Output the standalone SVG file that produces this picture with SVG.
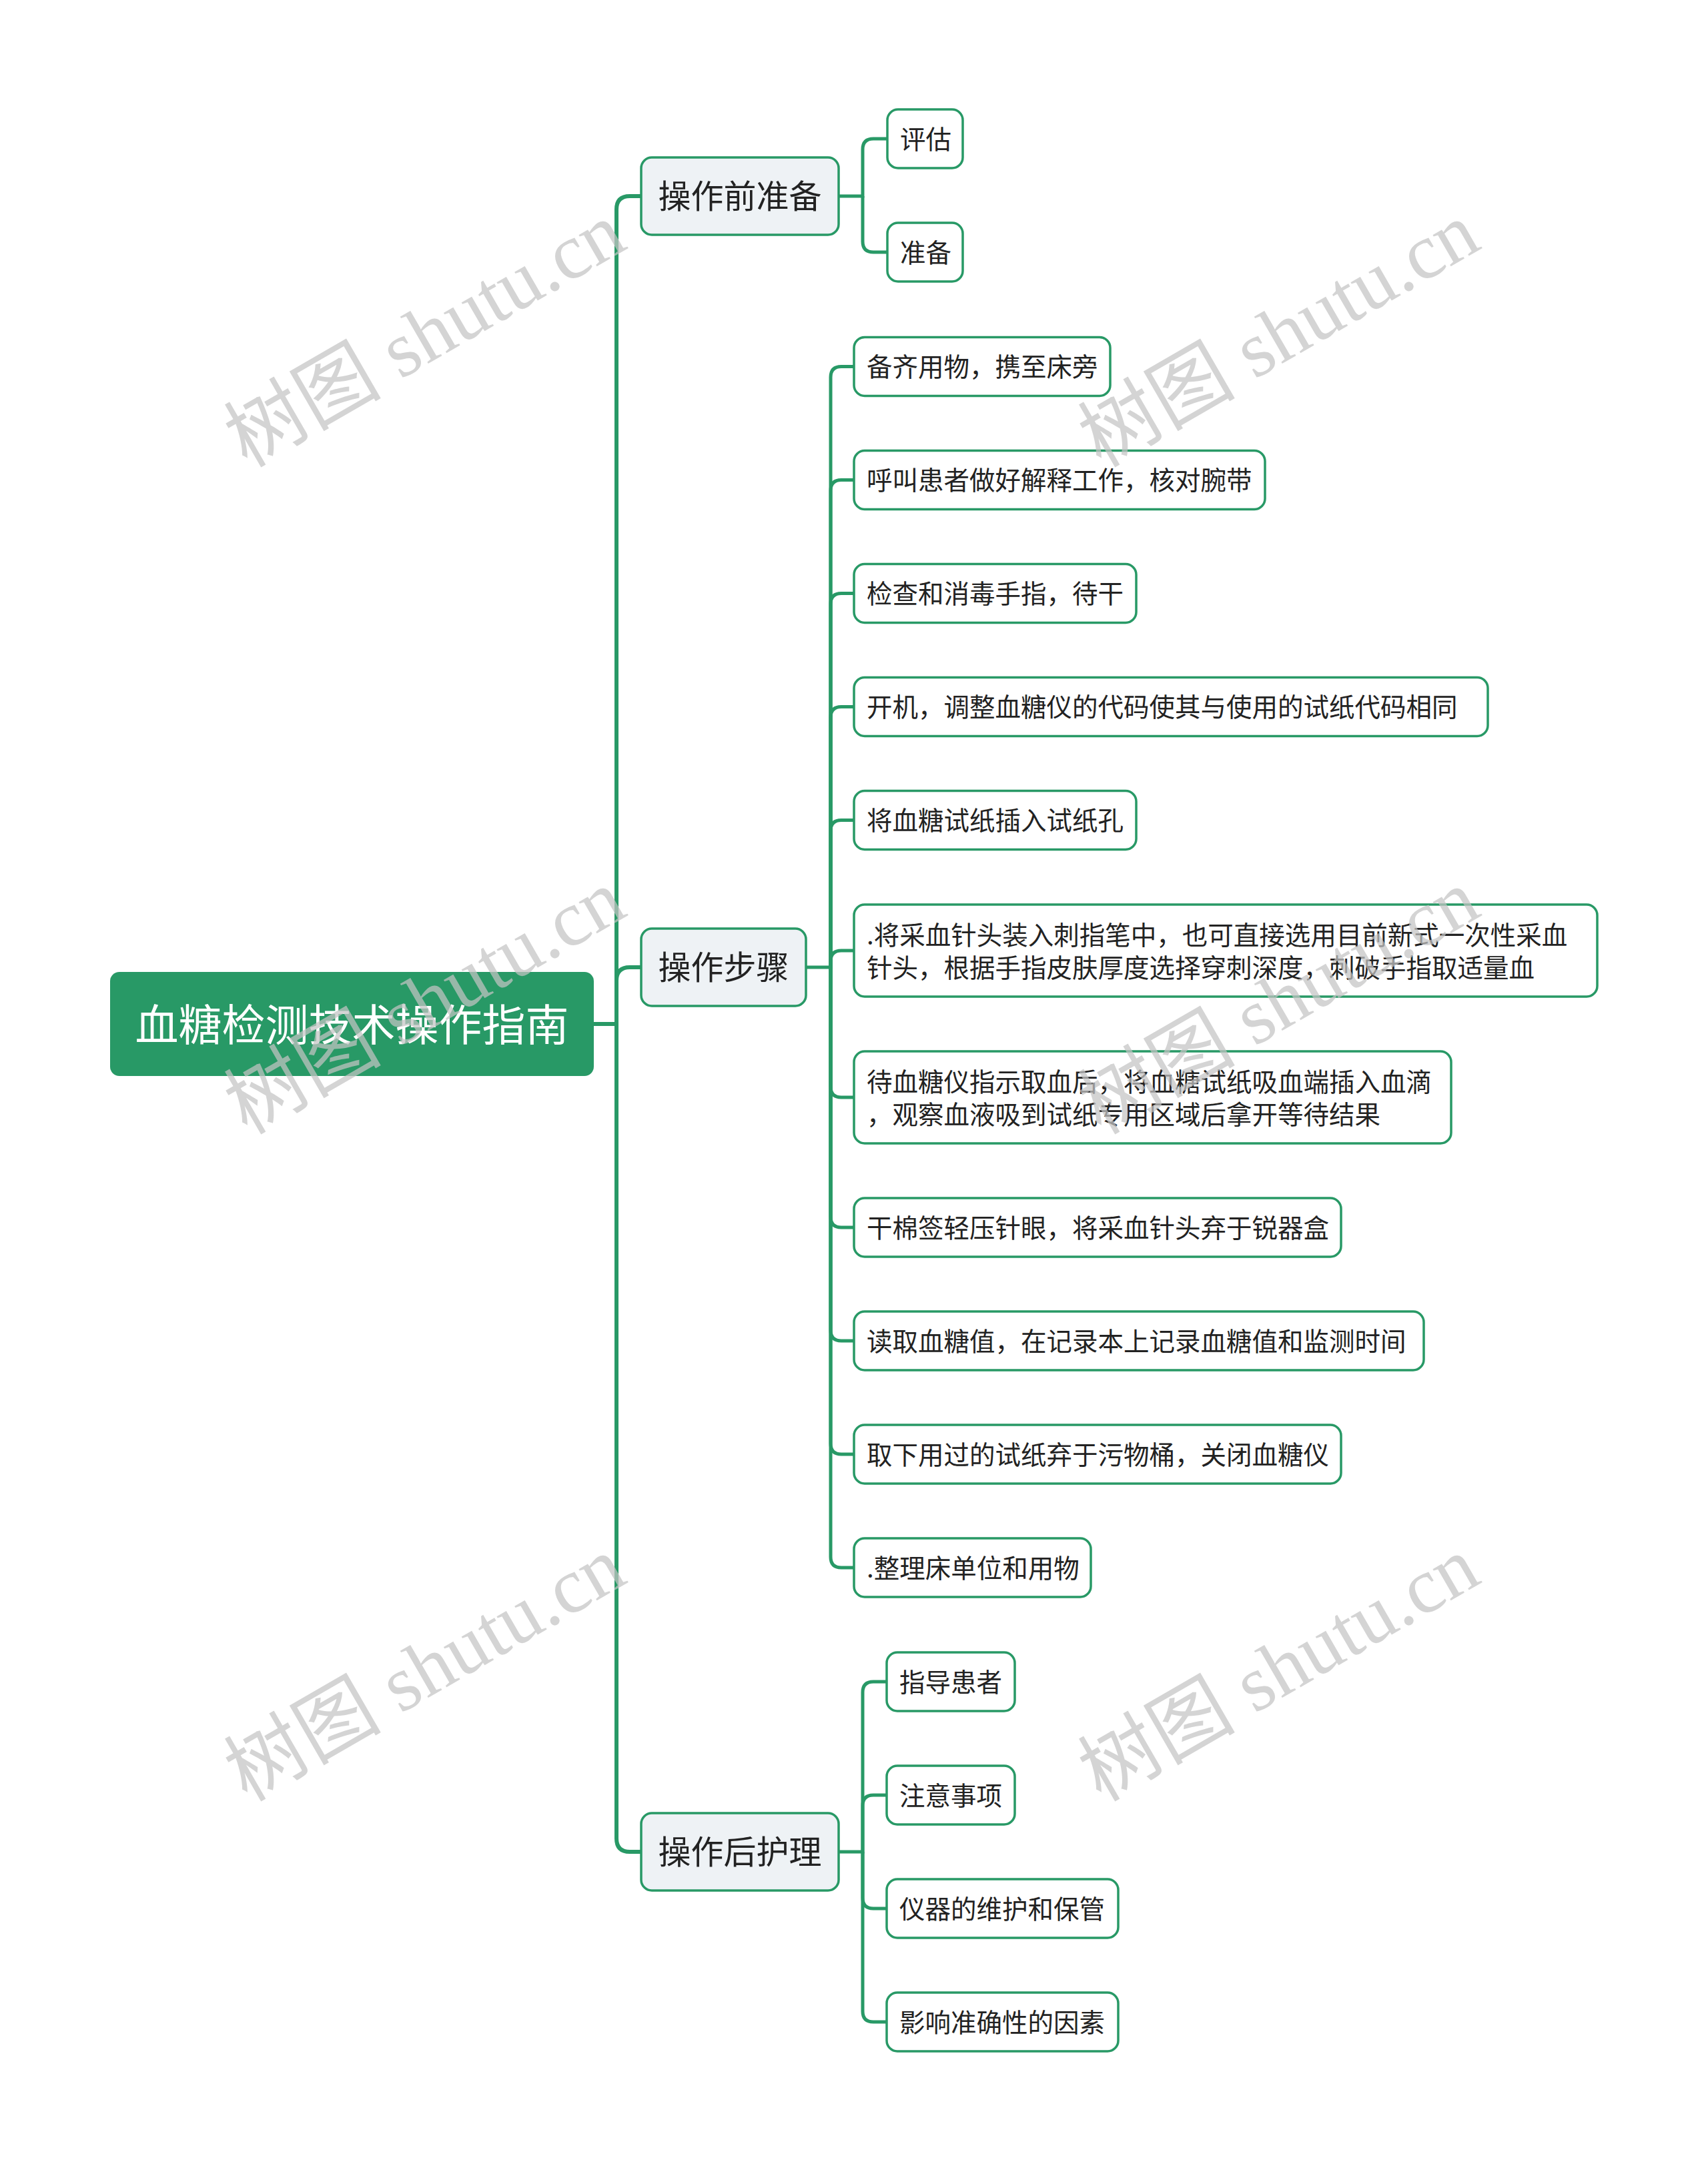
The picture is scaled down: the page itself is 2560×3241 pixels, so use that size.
<svg xmlns="http://www.w3.org/2000/svg" width="2560" height="3241" viewBox="0 0 2560 3241">
<style>
.bg{fill:#ffffff}
.root rect{fill:#289966}
.root text{fill:#ffffff;font-size:65px}
.l1 rect{fill:#eef2f5;stroke:#289966;stroke-width:3.5}
.l1 text{fill:#222222;font-size:49px;text-anchor:middle}
.l2 rect{fill:#ffffff;stroke:#289966;stroke-width:3.5}
.l2 text{fill:#222222;font-size:38.5px}
text{font-family:"Noto Sans CJK SC","Noto Sans",sans-serif;dominant-baseline:central}
.c1{fill:none;stroke:#289966;stroke-width:6}
.c2{fill:none;stroke:#289966;stroke-width:5}
.wm text{font-family:"Liberation Serif","Noto Sans CJK SC",serif;font-size:118px;fill:#c4c4c4;opacity:0.72;dominant-baseline:alphabetic}
</style>
<rect class="bg" x="0" y="0" width="2560" height="3241"/>
<g id="connectors">
<path class="c1" d="M890,1535 H924 V314 Q924,294 944,294 H961"/>
<path class="c1" d="M924,1535 V2756 Q924,2776 944,2776 H961"/>
<path class="c1" d="M924,1470 Q924,1450 944,1450 H961"/>
<path class="c2" d="M1257,294 H1293 V224 Q1293,208 1309,208 H1330"/>
<path class="c2" d="M1293,294 V362 Q1293,378 1309,378 H1330"/>
<path class="c2" d="M1208,1450 H1245 V565.5 Q1245,549.5 1261,549.5 H1280"/>
<path class="c2" d="M1245,1450 V735.5 Q1245,719.5 1261,719.5 H1280"/>
<path class="c2" d="M1245,1450 V905.5 Q1245,889.5 1261,889.5 H1280"/>
<path class="c2" d="M1245,1450 V1075.5 Q1245,1059.5 1261,1059.5 H1280"/>
<path class="c2" d="M1245,1450 V1245.5 Q1245,1229.5 1261,1229.5 H1280"/>
<path class="c2" d="M1245,1450 V1441 Q1245,1425 1261,1425 H1280"/>
<path class="c2" d="M1245,1450 V1629 Q1245,1645 1261,1645 H1280"/>
<path class="c2" d="M1245,1450 V1824 Q1245,1840 1261,1840 H1280"/>
<path class="c2" d="M1245,1450 V1994 Q1245,2010 1261,2010 H1280"/>
<path class="c2" d="M1245,1450 V2164 Q1245,2180 1261,2180 H1280"/>
<path class="c2" d="M1245,1450 V2334 Q1245,2350 1261,2350 H1280"/>
<path class="c2" d="M1257,2776 H1293 V2537 Q1293,2521 1309,2521 H1329"/>
<path class="c2" d="M1293,2776 V2707 Q1293,2691 1309,2691 H1329"/>
<path class="c2" d="M1293,2776 V2845 Q1293,2861 1309,2861 H1329"/>
<path class="c2" d="M1293,2776 V3015 Q1293,3031 1309,3031 H1329"/>
</g>
<g id="root" class="root"><rect x="165" y="1457" width="725" height="156" rx="14"/><text x="527.5" y="1532" text-anchor="middle">血糖检测技术操作指南</text></g>
<g id="n-pre" class="l1"><rect x="961" y="236" width="296" height="116" rx="16"/><text x="1109" y="290">操作前准备</text></g>
<g id="n-steps" class="l1"><rect x="961" y="1392" width="247" height="116" rx="16"/><text x="1084.5" y="1446">操作步骤</text></g>
<g id="n-post" class="l1"><rect x="961" y="2718" width="296" height="116" rx="16"/><text x="1109" y="2772">操作后护理</text></g>
<g id="n-pre-1" class="l2"><rect x="1330" y="164" width="113" height="88" rx="16"/><text x="1349" y="205.5">评估</text></g>
<g id="n-pre-2" class="l2"><rect x="1330" y="334" width="113" height="88" rx="16"/><text x="1349" y="375.5">准备</text></g>
<g id="n-s1" class="l2"><rect x="1280" y="505.5" width="384" height="88" rx="16"/><text x="1299" y="547">备齐用物，携至床旁</text></g>
<g id="n-s2" class="l2"><rect x="1280" y="675.5" width="616" height="88" rx="16"/><text x="1299" y="717">呼叫患者做好解释工作，核对腕带</text></g>
<g id="n-s3" class="l2"><rect x="1280" y="845.5" width="423" height="88" rx="16"/><text x="1299" y="887">检查和消毒手指，待干</text></g>
<g id="n-s4" class="l2"><rect x="1280" y="1015.5" width="950" height="88" rx="16"/><text x="1299" y="1057">开机，调整血糖仪的代码使其与使用的试纸代码相同</text></g>
<g id="n-s5" class="l2"><rect x="1280" y="1185.5" width="423" height="88" rx="16"/><text x="1299" y="1227">将血糖试纸插入试纸孔</text></g>
<g id="n-s6" class="l2"><rect x="1280" y="1356" width="1114" height="138" rx="16"/><text x="1299" y="1399">.将采血针头装入刺指笔中，也可直接选用目前新式一次性采血</text><text x="1299" y="1448">针头，根据手指皮肤厚度选择穿刺深度，刺破手指取适量血</text></g>
<g id="n-s7" class="l2"><rect x="1280" y="1576" width="895" height="138" rx="16"/><text x="1299" y="1619">待血糖仪指示取血后，将血糖试纸吸血端插入血滴</text><text x="1299" y="1668">，观察血液吸到试纸专用区域后拿开等待结果</text></g>
<g id="n-s8" class="l2"><rect x="1280" y="1796" width="730" height="88" rx="16"/><text x="1299" y="1837.5">干棉签轻压针眼，将采血针头弃于锐器盒</text></g>
<g id="n-s9" class="l2"><rect x="1280" y="1966" width="854" height="88" rx="16"/><text x="1299" y="2007.5">读取血糖值，在记录本上记录血糖值和监测时间</text></g>
<g id="n-s10" class="l2"><rect x="1280" y="2136" width="730" height="88" rx="16"/><text x="1299" y="2177.5">取下用过的试纸弃于污物桶，关闭血糖仪</text></g>
<g id="n-s11" class="l2"><rect x="1280" y="2306" width="355" height="88" rx="16"/><text x="1299" y="2347.5">.整理床单位和用物</text></g>
<g id="n-post-1" class="l2"><rect x="1329" y="2477" width="192" height="88" rx="16"/><text x="1348" y="2518.5">指导患者</text></g>
<g id="n-post-2" class="l2"><rect x="1329" y="2647" width="192" height="88" rx="16"/><text x="1348" y="2688.5">注意事项</text></g>
<g id="n-post-3" class="l2"><rect x="1329" y="2817" width="347" height="88" rx="16"/><text x="1348" y="2858.5">仪器的维护和保管</text></g>
<g id="n-post-4" class="l2"><rect x="1329" y="2987" width="347" height="88" rx="16"/><text x="1348" y="3028.5">影响准确性的因素</text></g>
<g id="watermark" class="wm">
<text transform="translate(370,702) rotate(-30)">树图 shutu.cn</text>
<text transform="translate(1650,702) rotate(-30)">树图 shutu.cn</text>
<text transform="translate(370,1702) rotate(-30)">树图 shutu.cn</text>
<text transform="translate(1650,1702) rotate(-30)">树图 shutu.cn</text>
<text transform="translate(370,2702) rotate(-30)">树图 shutu.cn</text>
<text transform="translate(1650,2702) rotate(-30)">树图 shutu.cn</text>
</g>
</svg>
